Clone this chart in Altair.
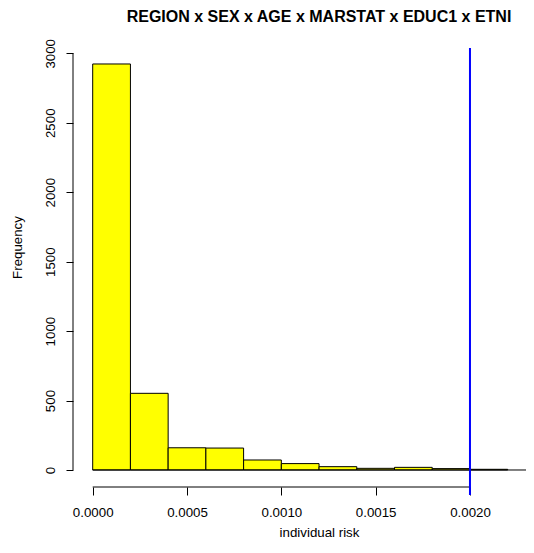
import altair as alt
import pandas as pd

# Histogram bins (individual risk) and counts
bin_edges = [0.0000, 0.0002, 0.0004, 0.0006, 0.0008, 0.0010,
             0.0012, 0.0014, 0.0016, 0.0018, 0.0020, 0.0022]
counts = [2923, 552, 160, 158, 72, 46, 24, 12, 19, 10, 5]
x_ticks = [0.0000, 0.0005, 0.0010, 0.0015, 0.0020]
y_ticks = [0, 500, 1000, 1500, 2000, 2500, 3000]
threshold = [0.002]
title_text = "REGION x SEX x AGE x MARSTAT x EDUC1 x ETNI"
x_title = "individual risk"
y_title = "Frequency"

W, H = 453, 439
FONT = "Liberation Sans"

bars = pd.DataFrame({"start": bin_edges[:-1], "end": bin_edges[1:], "count": counts})
xaxis_df = pd.DataFrame({"a": [x_ticks[0]], "b": [x_ticks[-1]]})
yaxis_df = pd.DataFrame({"a": [y_ticks[0]], "b": [y_ticks[-1]]})
thr_df = pd.DataFrame({"t": threshold})
base_df = pd.DataFrame({"z": [0.0], "c0": [0]})

xscale = alt.Scale(domain=[-0.0001044, 0.002297], nice=False, zero=False)
yscale = alt.Scale(domain=[-122.4, 3038], nice=False, zero=False)

xaxis = alt.Axis(values=x_ticks, format=".4f", domain=False, grid=False,
                 tickSize=8, tickColor="black", tickWidth=1,
                 labelFont=FONT, labelFontSize=13.3, labelColor="black",
                 labelBaseline="middle", labelPadding=17,
                 title=x_title, titleFont=FONT, titleFontSize=13.3,
                 titleFontWeight="normal", titleColor="black",
                 titleX=246, titleY=45, titleBaseline="middle", titleAlign="center")
yaxis = alt.Axis(values=y_ticks, format="d", domain=False, grid=False,
                 tickSize=7, tickColor="black", tickWidth=1,
                 labelFont=FONT, labelFontSize=13.3, labelColor="black",
                 labelAngle=270, labelAlign="center", labelBaseline="middle",
                 labelPadding=16,
                 title=y_title, titleFont=FONT, titleFontSize=13.3,
                 titleFontWeight="normal", titleColor="black",
                 titleAngle=270, titleX=-56, titleY=199,
                 titleBaseline="middle", titleAlign="center")

hist = alt.Chart(bars).mark_bar(fill="#FFFF00", stroke="black", strokeWidth=1,
                                 clip=True).encode(
    x=alt.X("start:Q", scale=xscale, axis=xaxis),
    x2="end:Q",
    y=alt.Y("count:Q", scale=yscale, axis=yaxis),
    y2=alt.Y2(datum=0),
)

baseline = alt.Chart(base_df).mark_rule(color="black", strokeWidth=1).encode(
    x=alt.X("z:Q", scale=xscale, axis=xaxis),
    x2=alt.value(W),
    y=alt.Y("c0:Q", scale=yscale, axis=yaxis),
)

xdomain = alt.Chart(xaxis_df).mark_rule(color="black", strokeWidth=1).encode(
    x=alt.X("a:Q", scale=xscale, axis=xaxis),
    x2="b:Q",
    y=alt.value(H),
)

ydomain = alt.Chart(yaxis_df).mark_rule(color="black", strokeWidth=1).encode(
    x=alt.value(0),
    y=alt.Y("a:Q", scale=yscale, axis=yaxis),
    y2="b:Q",
)

vline = alt.Chart(thr_df).mark_rule(color="#0000FF", strokeWidth=2).encode(
    x=alt.X("t:Q", scale=xscale, axis=xaxis),
    y=alt.value(0),
    y2=alt.value(H + 8),
)

chart = alt.layer(hist, baseline, xdomain, ydomain, vline).properties(
    width=W, height=H,
    autosize=alt.AutoSizeParams(type="none"),
    padding={"left": 65, "top": 40, "right": 0, "bottom": 53},
    title=alt.TitleParams(title_text, font=FONT, fontSize=16, fontWeight="bold",
                          color="black", anchor="middle", frame="group",
                          dx=19.5, offset=0, baseline="alphabetic"),
).configure_view(stroke=None)

chart.save("out.html", embed_options={"renderer": "svg", "actions": False})
